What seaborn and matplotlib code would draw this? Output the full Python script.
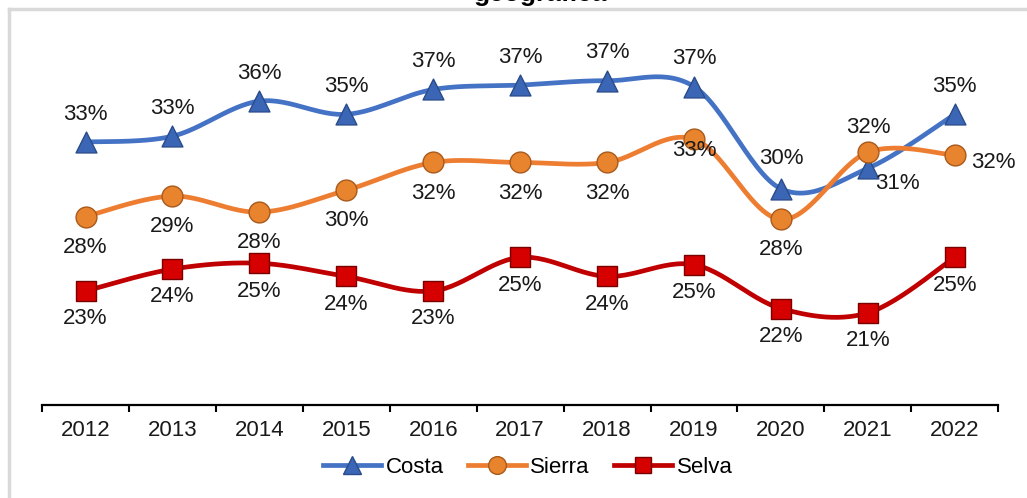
"""
Evolution of the share per geographic domain, 2012-2022: smoothed lines with labels.
"""
import numpy as np
import pandas as pd
import matplotlib.pyplot as plt
import seaborn as sns
from matplotlib.lines import Line2D

years = ['2012', '2013', '2014', '2015', '2016', '2017', '2018', '2019', '2020', '2021', '2022']
costa = [0.330, 0.334, 0.358, 0.349, 0.366, 0.369, 0.372, 0.368, 0.298, 0.312, 0.349]
sierra = [0.279, 0.293, 0.282, 0.297, 0.316, 0.316, 0.316, 0.332, 0.277, 0.323, 0.321]
selva = [0.228, 0.243, 0.247, 0.238, 0.228, 0.251, 0.238, 0.246, 0.216, 0.213, 0.251]

plt.rcParams['font.family'] = ['Liberation Sans', 'DejaVu Sans']


def smooth_curve(y, steps=30):
    """
    Excel-like smoothing: cubic Bezier segments with Catmull-Rom control points.
    Returns (x, y) arrays along the category positions 0..n-1.
    """
    y = np.asarray(y, dtype=float)
    x = np.arange(len(y), dtype=float)
    pts = np.column_stack([x, y])
    ext = np.vstack([pts[0], pts, pts[-1]])
    out = []
    t = np.linspace(0, 1, steps)[:, None]
    for i in range(len(pts) - 1):
        p0, p3 = ext[i + 1], ext[i + 2]
        p1 = p0 + (ext[i + 2] - ext[i]) / 6
        p2 = p3 - (ext[i + 3] - ext[i + 1]) / 6
        seg = ((1 - t) ** 3) * p0 + 3 * ((1 - t) ** 2) * t * p1 + 3 * (1 - t) * t ** 2 * p2 + t ** 3 * p3
        out.append(seg if i == 0 else seg[1:])
    out = np.vstack(out)
    return out[:, 0], out[:, 1]


def plot_domains():
    """
    Draw the three series with markers, data labels, category axis and legend.
    """
    series = {
        'Costa': dict(values=costa, color='#4472C4', face='#3A66B5', edge='#2A4C8C',
                      marker='^', size=15, offset=(0, 20), special={8: (0, 22), 9: (21, -11)}),
        'Sierra': dict(values=sierra, color='#ED7D31', face='#E8832E', edge='#A85A1C',
                       marker='o', size=15, offset=(0, -22), special={7: (0, -8), 9: (0, 18), 10: (28, -5)}),
        'Selva': dict(values=selva, color='#C00000', face='#D60000', edge='#7A0000',
                      marker='s', size=14, offset=(0, -20), special={}),
    }

    fig, ax = plt.subplots(figsize=(10.27, 4.98), dpi=100)
    fig.subplots_adjust(left=0.041, right=0.972, bottom=0.187, top=0.92)

    handles = []
    for name, s in series.items():
        sx, sy = smooth_curve(s['values'])
        curve = pd.DataFrame({'x': sx, 'y': sy})
        sns.lineplot(data=curve, x='x', y='y', ax=ax, color=s['color'], linewidth=3.4,
                     sort=False, estimator=None, legend=False)
        pts = pd.DataFrame({'x': np.arange(len(years)), 'y': s['values']})
        sns.scatterplot(data=pts, x='x', y='y', ax=ax, marker=s['marker'], s=s['size'] ** 2,
                        color=s['face'], edgecolor=s['edge'], linewidth=1.0, zorder=5, legend=False)
        for i, v in enumerate(s['values']):
            dx, dy = s['special'].get(i, s['offset'])
            ax.annotate(f'{v:.0%}', (i, v), xytext=(dx, dy), textcoords='offset points',
                        ha='center', va='center', fontsize=16, color='#1a1a1a', zorder=6)
        handles.append(Line2D([], [], color=s['color'], linewidth=3.4, marker=s['marker'],
                              markersize=s['size'] * 0.85, markerfacecolor=s['face'],
                              markeredgecolor=s['edge'], label=name))

    ax.set_xlim(-0.5, len(years) - 0.5)
    ax.set_ylim(0.15, 0.40)
    ax.set_xticks(range(len(years)))
    ax.set_xticklabels(years, fontsize=16, color='#1a1a1a')
    ax.set_xticks(np.arange(-0.5, len(years)), minor=True)
    ax.tick_params(axis='x', which='major', length=0, pad=11)
    ax.tick_params(axis='x', which='minor', length=5, width=1.5, color='black')
    ax.set_yticks([])
    ax.set_xlabel('')
    ax.set_ylabel('')
    for side in ['top', 'right', 'left']:
        ax.spines[side].set_visible(False)
    ax.spines['bottom'].set_linewidth(1.6)
    ax.spines['bottom'].set_color('black')

    fig.legend(handles=handles, loc='center', bbox_to_anchor=(0.514, 0.062), ncol=3,
               frameon=False, fontsize=16, handlelength=2.6, handletextpad=0.2,
               columnspacing=1.1)

    # chart border and the clipped title above it
    fig.add_artist(Line2D([9 / 1027, 1], [1 - 9 / 498, 1 - 9 / 498], color='#d9d9d9',
                          linewidth=2.5, transform=fig.transFigure))
    fig.add_artist(Line2D([9 / 1027, 9 / 1027], [0, 1 - 9 / 498], color='#d9d9d9',
                          linewidth=2.5, transform=fig.transFigure))
    fig.text(0.526, 1 - 1 / 498, 'geográfica', ha='center', va='baseline',
             fontsize=19, fontweight='bold', color='black')

    plt.savefig('out.png', dpi=100)


plot_domains()
